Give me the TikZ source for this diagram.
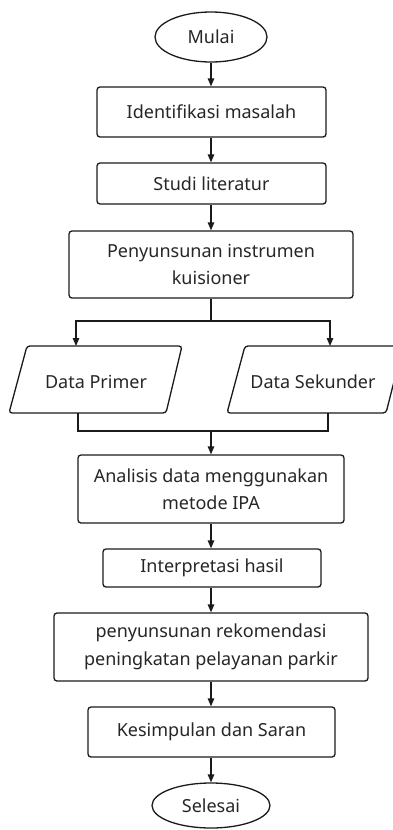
\documentclass[tikz,border=0pt]{standalone}
\usepackage{fontspec}
\setmainfont{Noto Sans}
\usetikzlibrary{arrows.meta,shapes.geometric}
\definecolor{ln}{HTML}{1A1A1A}
\definecolor{tx}{HTML}{262626}
\tikzset{
  base/.style={draw=ln, line width=1.3pt, text=tx, font=\fontsize{18}{27.5}\selectfont, align=center, inner sep=0pt},
  procbox/.style={base, rectangle, rounded corners=3pt},
  termbox/.style={base, ellipse},
  conn/.style={draw=ln, line width=1.3pt, -{Triangle[length=8pt,width=6.5pt]}},
  plain/.style={draw=ln, line width=1.3pt},
  para/.style={draw=ln, line width=1.3pt, rounded corners=3pt},
  ptext/.style={text=tx, font=\fontsize{18}{27.5}\selectfont, inner sep=0pt}
}
\begin{document}
\begin{tikzpicture}[x=1pt,y=-1pt]
\useasboundingbox (0,0) rectangle (393,830);
\clip (0,0) rectangle (393,830);
\node[termbox, minimum width=112pt, minimum height=50pt] (mulai) at (211,37) {Mulai};
\node[procbox, minimum width=229pt, minimum height=50pt] (ident) at (211.5,112) {Identifikasi masalah};
\node[procbox, minimum width=229pt, minimum height=41pt] (studi) at (211.5,183.5) {Studi literatur};
\node[procbox, minimum width=284pt, minimum height=67pt] (penyu) at (211,264.5) {Penyunsunan instrumen\\kuisioner};
% parallelograms
\draw[para] (27,346) -- (182,346) -- (166,413) -- (9,413) -- cycle;
\draw[para] (245,346) -- (403,346) -- (386,413) -- (227,413) -- cycle;
\node[ptext] (primer) at (96,382) {Data Primer};
\node[ptext] (sekunder) at (313,382) {Data Sekunder};
\coordinate (ptop) at (76,346);
\coordinate (stop) at (330,346);
\coordinate (pbot) at (78,413);
\coordinate (sbot) at (328,413);
\coordinate (fork) at (211,321);
\coordinate (merge) at (211,431);
\node[procbox, minimum width=266pt, minimum height=68pt] (anal) at (211,489) {Analisis data menggunakan\\metode IPA};
\node[procbox, minimum width=218pt, minimum height=38pt] (interp) at (212,568) {Interpretasi hasil};
\node[procbox, minimum width=314pt, minimum height=68pt] (rekom) at (211,647) {penyunsunan rekomendasi\\peningkatan pelayanan parkir};
\node[procbox, minimum width=247pt, minimum height=50pt] (kesim) at (211.5,732) {Kesimpulan dan Saran};
\node[termbox, minimum width=118pt, minimum height=45pt] (selesai) at (211,805.5) {Selesai};
% connectors
\draw[conn] (mulai.south) -- (mulai.south |- ident.north);
\draw[conn] (ident.south -| mulai.south) -- (mulai.south |- studi.north);
\draw[conn] (studi.south -| mulai.south) -- (mulai.south |- penyu.north);
\draw[plain] (penyu.south -| fork) -- (fork);
\draw[conn] (fork) -| (ptop);
\draw[conn] (fork) -| (stop);
\draw[plain] (pbot) |- (merge) -| (sbot);
\draw[conn] (merge) -- (merge |- anal.north);
\draw[conn] (anal.south -| mulai.south) -- (mulai.south |- interp.north);
\draw[conn] (interp.south -| mulai.south) -- (mulai.south |- rekom.north);
\draw[conn] (rekom.south -| mulai.south) -- (mulai.south |- kesim.north);
\draw[conn] (kesim.south -| mulai.south) -- (selesai.north);
\end{tikzpicture}
\end{document}
